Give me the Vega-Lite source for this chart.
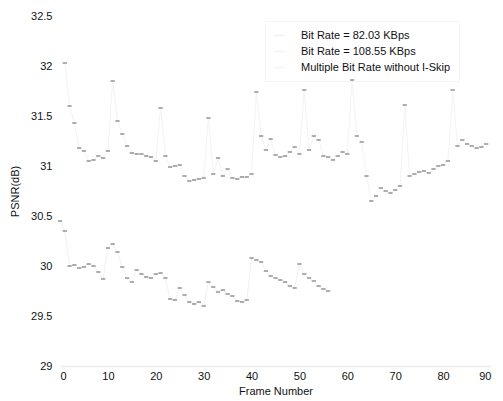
{
  "$schema": "https://vega.github.io/schema/vega-lite/v6.json",
  "width": 431,
  "height": 350,
  "autosize": "none",
  "padding": {"left": 60, "top": 16, "right": 12, "bottom": 35},
  "background": "white",
  "config": {
    "view": {"stroke": null},
    "font": "Liberation Sans",
    "axis": {"labelFont": "Liberation Sans", "titleFont": "Liberation Sans", "labelFontSize": 11, "titleFontSize": 11, "titleFontWeight": "normal", "labelColor": "#111111", "titleColor": "#111111", "grid": false, "ticks": false}
  },
  "datasets": {
    "psnr": [
      {"frame": 0, "psnr": 30.45, "series": "Bit Rate = 82.03 KBps"},
      {"frame": 1, "psnr": 30.35, "series": "Bit Rate = 82.03 KBps"},
      {"frame": 2, "psnr": 30.0, "series": "Bit Rate = 82.03 KBps"},
      {"frame": 3, "psnr": 30.01, "series": "Bit Rate = 82.03 KBps"},
      {"frame": 4, "psnr": 29.98, "series": "Bit Rate = 82.03 KBps"},
      {"frame": 5, "psnr": 29.99, "series": "Bit Rate = 82.03 KBps"},
      {"frame": 6, "psnr": 30.02, "series": "Bit Rate = 82.03 KBps"},
      {"frame": 7, "psnr": 30.0, "series": "Bit Rate = 82.03 KBps"},
      {"frame": 8, "psnr": 29.94, "series": "Bit Rate = 82.03 KBps"},
      {"frame": 9, "psnr": 29.87, "series": "Bit Rate = 82.03 KBps"},
      {"frame": 10, "psnr": 30.18, "series": "Bit Rate = 82.03 KBps"},
      {"frame": 11, "psnr": 30.22, "series": "Bit Rate = 82.03 KBps"},
      {"frame": 12, "psnr": 30.14, "series": "Bit Rate = 82.03 KBps"},
      {"frame": 13, "psnr": 29.99, "series": "Bit Rate = 82.03 KBps"},
      {"frame": 14, "psnr": 29.88, "series": "Bit Rate = 82.03 KBps"},
      {"frame": 15, "psnr": 29.84, "series": "Bit Rate = 82.03 KBps"},
      {"frame": 16, "psnr": 29.96, "series": "Bit Rate = 82.03 KBps"},
      {"frame": 17, "psnr": 29.92, "series": "Bit Rate = 82.03 KBps"},
      {"frame": 18, "psnr": 29.89, "series": "Bit Rate = 82.03 KBps"},
      {"frame": 19, "psnr": 29.88, "series": "Bit Rate = 82.03 KBps"},
      {"frame": 20, "psnr": 29.92, "series": "Bit Rate = 82.03 KBps"},
      {"frame": 21, "psnr": 29.93, "series": "Bit Rate = 82.03 KBps"},
      {"frame": 22, "psnr": 29.88, "series": "Bit Rate = 82.03 KBps"},
      {"frame": 23, "psnr": 29.67, "series": "Bit Rate = 82.03 KBps"},
      {"frame": 24, "psnr": 29.66, "series": "Bit Rate = 82.03 KBps"},
      {"frame": 25, "psnr": 29.78, "series": "Bit Rate = 82.03 KBps"},
      {"frame": 26, "psnr": 29.71, "series": "Bit Rate = 82.03 KBps"},
      {"frame": 27, "psnr": 29.64, "series": "Bit Rate = 82.03 KBps"},
      {"frame": 28, "psnr": 29.62, "series": "Bit Rate = 82.03 KBps"},
      {"frame": 29, "psnr": 29.64, "series": "Bit Rate = 82.03 KBps"},
      {"frame": 30, "psnr": 29.6, "series": "Bit Rate = 82.03 KBps"},
      {"frame": 31, "psnr": 29.84, "series": "Bit Rate = 82.03 KBps"},
      {"frame": 32, "psnr": 29.79, "series": "Bit Rate = 82.03 KBps"},
      {"frame": 33, "psnr": 29.74, "series": "Bit Rate = 82.03 KBps"},
      {"frame": 34, "psnr": 29.76, "series": "Bit Rate = 82.03 KBps"},
      {"frame": 35, "psnr": 29.72, "series": "Bit Rate = 82.03 KBps"},
      {"frame": 36, "psnr": 29.7, "series": "Bit Rate = 82.03 KBps"},
      {"frame": 37, "psnr": 29.65, "series": "Bit Rate = 82.03 KBps"},
      {"frame": 38, "psnr": 29.64, "series": "Bit Rate = 82.03 KBps"},
      {"frame": 39, "psnr": 29.66, "series": "Bit Rate = 82.03 KBps"},
      {"frame": 40, "psnr": 30.08, "series": "Bit Rate = 82.03 KBps"},
      {"frame": 41, "psnr": 30.06, "series": "Bit Rate = 82.03 KBps"},
      {"frame": 42, "psnr": 30.04, "series": "Bit Rate = 82.03 KBps"},
      {"frame": 43, "psnr": 29.95, "series": "Bit Rate = 82.03 KBps"},
      {"frame": 44, "psnr": 29.9, "series": "Bit Rate = 82.03 KBps"},
      {"frame": 45, "psnr": 29.88, "series": "Bit Rate = 82.03 KBps"},
      {"frame": 46, "psnr": 29.86, "series": "Bit Rate = 82.03 KBps"},
      {"frame": 47, "psnr": 29.84, "series": "Bit Rate = 82.03 KBps"},
      {"frame": 48, "psnr": 29.8, "series": "Bit Rate = 82.03 KBps"},
      {"frame": 49, "psnr": 29.78, "series": "Bit Rate = 82.03 KBps"},
      {"frame": 50, "psnr": 30.02, "series": "Bit Rate = 82.03 KBps"},
      {"frame": 51, "psnr": 29.92, "series": "Bit Rate = 82.03 KBps"},
      {"frame": 52, "psnr": 29.88, "series": "Bit Rate = 82.03 KBps"},
      {"frame": 53, "psnr": 29.85, "series": "Bit Rate = 82.03 KBps"},
      {"frame": 54, "psnr": 29.8, "series": "Bit Rate = 82.03 KBps"},
      {"frame": 55, "psnr": 29.77, "series": "Bit Rate = 82.03 KBps"},
      {"frame": 56, "psnr": 29.75, "series": "Bit Rate = 82.03 KBps"},

      {"frame": 1, "psnr": 32.03, "series": "Bit Rate = 108.55 KBps"},
      {"frame": 2, "psnr": 31.6, "series": "Bit Rate = 108.55 KBps"},
      {"frame": 3, "psnr": 31.43, "series": "Bit Rate = 108.55 KBps"},
      {"frame": 4, "psnr": 31.18, "series": "Bit Rate = 108.55 KBps"},
      {"frame": 5, "psnr": 31.15, "series": "Bit Rate = 108.55 KBps"},
      {"frame": 6, "psnr": 31.05, "series": "Bit Rate = 108.55 KBps"},
      {"frame": 7, "psnr": 31.06, "series": "Bit Rate = 108.55 KBps"},
      {"frame": 8, "psnr": 31.1, "series": "Bit Rate = 108.55 KBps"},
      {"frame": 9, "psnr": 31.08, "series": "Bit Rate = 108.55 KBps"},
      {"frame": 10, "psnr": 31.15, "series": "Bit Rate = 108.55 KBps"},
      {"frame": 11, "psnr": 31.85, "series": "Bit Rate = 108.55 KBps"},
      {"frame": 12, "psnr": 31.45, "series": "Bit Rate = 108.55 KBps"},
      {"frame": 13, "psnr": 31.32, "series": "Bit Rate = 108.55 KBps"},
      {"frame": 14, "psnr": 31.2, "series": "Bit Rate = 108.55 KBps"},
      {"frame": 15, "psnr": 31.13, "series": "Bit Rate = 108.55 KBps"},
      {"frame": 16, "psnr": 31.12, "series": "Bit Rate = 108.55 KBps"},
      {"frame": 17, "psnr": 31.12, "series": "Bit Rate = 108.55 KBps"},
      {"frame": 18, "psnr": 31.1, "series": "Bit Rate = 108.55 KBps"},
      {"frame": 19, "psnr": 31.09, "series": "Bit Rate = 108.55 KBps"},
      {"frame": 20, "psnr": 31.05, "series": "Bit Rate = 108.55 KBps"},
      {"frame": 21, "psnr": 31.58, "series": "Bit Rate = 108.55 KBps"},
      {"frame": 22, "psnr": 31.1, "series": "Bit Rate = 108.55 KBps"},
      {"frame": 23, "psnr": 30.99, "series": "Bit Rate = 108.55 KBps"},
      {"frame": 24, "psnr": 31.0, "series": "Bit Rate = 108.55 KBps"},
      {"frame": 25, "psnr": 31.01, "series": "Bit Rate = 108.55 KBps"},
      {"frame": 26, "psnr": 30.9, "series": "Bit Rate = 108.55 KBps"},
      {"frame": 27, "psnr": 30.85, "series": "Bit Rate = 108.55 KBps"},
      {"frame": 28, "psnr": 30.86, "series": "Bit Rate = 108.55 KBps"},
      {"frame": 29, "psnr": 30.87, "series": "Bit Rate = 108.55 KBps"},
      {"frame": 30, "psnr": 30.88, "series": "Bit Rate = 108.55 KBps"},
      {"frame": 31, "psnr": 31.48, "series": "Bit Rate = 108.55 KBps"},
      {"frame": 32, "psnr": 30.92, "series": "Bit Rate = 108.55 KBps"},
      {"frame": 33, "psnr": 31.08, "series": "Bit Rate = 108.55 KBps"},
      {"frame": 34, "psnr": 30.9, "series": "Bit Rate = 108.55 KBps"},
      {"frame": 35, "psnr": 30.97, "series": "Bit Rate = 108.55 KBps"},
      {"frame": 36, "psnr": 30.88, "series": "Bit Rate = 108.55 KBps"},
      {"frame": 37, "psnr": 30.87, "series": "Bit Rate = 108.55 KBps"},
      {"frame": 38, "psnr": 30.89, "series": "Bit Rate = 108.55 KBps"},
      {"frame": 39, "psnr": 30.89, "series": "Bit Rate = 108.55 KBps"},
      {"frame": 40, "psnr": 30.92, "series": "Bit Rate = 108.55 KBps"},
      {"frame": 41, "psnr": 31.74, "series": "Bit Rate = 108.55 KBps"},
      {"frame": 42, "psnr": 31.3, "series": "Bit Rate = 108.55 KBps"},
      {"frame": 43, "psnr": 31.16, "series": "Bit Rate = 108.55 KBps"},
      {"frame": 44, "psnr": 31.27, "series": "Bit Rate = 108.55 KBps"},
      {"frame": 45, "psnr": 31.11, "series": "Bit Rate = 108.55 KBps"},
      {"frame": 46, "psnr": 31.09, "series": "Bit Rate = 108.55 KBps"},
      {"frame": 47, "psnr": 31.1, "series": "Bit Rate = 108.55 KBps"},
      {"frame": 48, "psnr": 31.14, "series": "Bit Rate = 108.55 KBps"},
      {"frame": 49, "psnr": 31.19, "series": "Bit Rate = 108.55 KBps"},
      {"frame": 50, "psnr": 31.12, "series": "Bit Rate = 108.55 KBps"},
      {"frame": 51, "psnr": 31.76, "series": "Bit Rate = 108.55 KBps"},
      {"frame": 52, "psnr": 31.16, "series": "Bit Rate = 108.55 KBps"},
      {"frame": 53, "psnr": 31.3, "series": "Bit Rate = 108.55 KBps"},
      {"frame": 54, "psnr": 31.26, "series": "Bit Rate = 108.55 KBps"},
      {"frame": 55, "psnr": 31.1, "series": "Bit Rate = 108.55 KBps"},
      {"frame": 56, "psnr": 31.09, "series": "Bit Rate = 108.55 KBps"},
      {"frame": 57, "psnr": 31.06, "series": "Bit Rate = 108.55 KBps"},
      {"frame": 58, "psnr": 31.1, "series": "Bit Rate = 108.55 KBps"},
      {"frame": 59, "psnr": 31.14, "series": "Bit Rate = 108.55 KBps"},
      {"frame": 60, "psnr": 31.12, "series": "Bit Rate = 108.55 KBps"},
      {"frame": 61, "psnr": 31.86, "series": "Bit Rate = 108.55 KBps"},
      {"frame": 62, "psnr": 31.3, "series": "Bit Rate = 108.55 KBps"},

      {"frame": 63, "psnr": 31.24, "series": "Multiple Bit Rate without I-Skip"},
      {"frame": 64, "psnr": 30.9, "series": "Multiple Bit Rate without I-Skip"},
      {"frame": 65, "psnr": 30.65, "series": "Multiple Bit Rate without I-Skip"},
      {"frame": 66, "psnr": 30.7, "series": "Multiple Bit Rate without I-Skip"},
      {"frame": 67, "psnr": 30.78, "series": "Multiple Bit Rate without I-Skip"},
      {"frame": 68, "psnr": 30.75, "series": "Multiple Bit Rate without I-Skip"},
      {"frame": 69, "psnr": 30.73, "series": "Multiple Bit Rate without I-Skip"},
      {"frame": 70, "psnr": 30.76, "series": "Multiple Bit Rate without I-Skip"},
      {"frame": 71, "psnr": 30.8, "series": "Multiple Bit Rate without I-Skip"},
      {"frame": 72, "psnr": 31.61, "series": "Multiple Bit Rate without I-Skip"},
      {"frame": 73, "psnr": 30.9, "series": "Multiple Bit Rate without I-Skip"},
      {"frame": 74, "psnr": 30.92, "series": "Multiple Bit Rate without I-Skip"},
      {"frame": 75, "psnr": 30.94, "series": "Multiple Bit Rate without I-Skip"},
      {"frame": 76, "psnr": 30.95, "series": "Multiple Bit Rate without I-Skip"},
      {"frame": 77, "psnr": 30.93, "series": "Multiple Bit Rate without I-Skip"},
      {"frame": 78, "psnr": 30.97, "series": "Multiple Bit Rate without I-Skip"},
      {"frame": 79, "psnr": 31.0, "series": "Multiple Bit Rate without I-Skip"},
      {"frame": 80, "psnr": 31.01, "series": "Multiple Bit Rate without I-Skip"},
      {"frame": 81, "psnr": 31.05, "series": "Multiple Bit Rate without I-Skip"},
      {"frame": 82, "psnr": 31.76, "series": "Multiple Bit Rate without I-Skip"},
      {"frame": 83, "psnr": 31.2, "series": "Multiple Bit Rate without I-Skip"},
      {"frame": 84, "psnr": 31.26, "series": "Multiple Bit Rate without I-Skip"},
      {"frame": 85, "psnr": 31.22, "series": "Multiple Bit Rate without I-Skip"},
      {"frame": 86, "psnr": 31.2, "series": "Multiple Bit Rate without I-Skip"},
      {"frame": 87, "psnr": 31.18, "series": "Multiple Bit Rate without I-Skip"},
      {"frame": 88, "psnr": 31.19, "series": "Multiple Bit Rate without I-Skip"},
      {"frame": 89, "psnr": 31.22, "series": "Multiple Bit Rate without I-Skip"}
    ]
  },
  "data": {"name": "psnr"},
  "encoding": {
    "x": {"field": "frame", "type": "quantitative", "title": "Frame Number",
      "scale": {"domain": [0, 90], "nice": false, "zero": false},
      "axis": {"values": [0, 10, 20, 30, 40, 50, 60, 70, 80, 90], "labelPadding": 4, "titlePadding": 4, "domainColor": "#ececec", "domainWidth": 1.5}},
    "y": {"field": "psnr", "type": "quantitative", "title": "PSNR(dB)",
      "scale": {"domain": [29, 32.5], "nice": false, "zero": false},
      "axis": {"values": [29, 29.5, 30, 30.5, 31, 31.5, 32, 32.5], "format": ".1~f", "domain": false, "labelPadding": 8, "titlePadding": 10}}
  },
  "layer": [
    {
      "mark": {"type": "line", "strokeWidth": 1},
      "encoding": {
        "color": {"field": "series", "type": "nominal",
          "scale": {"domain": ["Bit Rate = 82.03 KBps", "Bit Rate = 108.55 KBps", "Multiple Bit Rate without I-Skip"], "range": ["#f1f1f1", "#f3f3f3", "#f4f4f4"]},
          "legend": {"title": null, "orient": "none", "legendX": 205, "legendY": 5, "symbolType": "stroke", "symbolSize": 120, "symbolStrokeWidth": 1.5, "symbolStrokeColor": "#dddddd", "labelFontSize": 11, "labelFont": "Liberation Sans", "labelColor": "#111111", "labelOffset": 15, "rowPadding": 4, "padding": 8, "strokeColor": "#f4f4f4"}
        }
      }
    },
    {
      "mark": {"type": "point", "shape": "stroke", "size": 18, "strokeWidth": 1.6, "color": "#7a7a7a", "opacity": 0.75},
      "encoding": {"detail": {"field": "series", "type": "nominal"}}
    }
  ]
}
